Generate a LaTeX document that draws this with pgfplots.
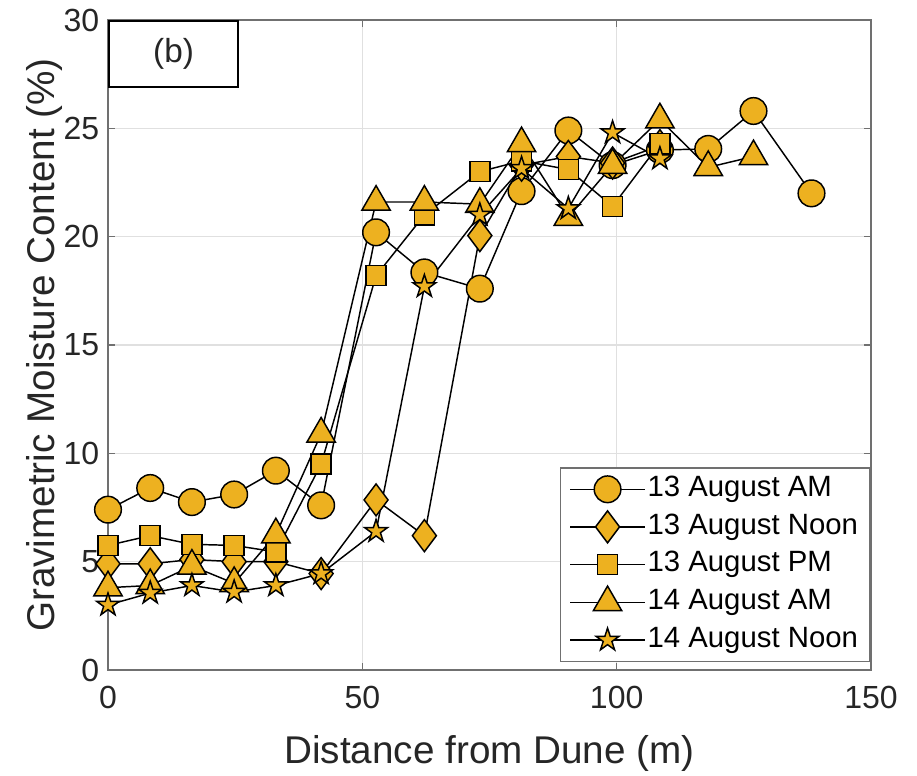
\documentclass[border=0pt]{standalone}
\usepackage{fontspec}
\setmainfont{Liberation Sans}
\usepackage{pgfplots}
\pgfplotsset{compat=1.18}

\definecolor{matyellow}{HTML}{EDB120}
\definecolor{axgray}{HTML}{707070}

% filled five-point star like MATLAB's pentagram
\pgfdeclareplotmark{pentagram*}{%
  \pgfpathmoveto{\pgfpointpolar{90}{\pgfplotmarksize}}%
  \pgfpathlineto{\pgfpointpolar{126}{0.382\pgfplotmarksize}}%
  \pgfpathlineto{\pgfpointpolar{162}{\pgfplotmarksize}}%
  \pgfpathlineto{\pgfpointpolar{198}{0.382\pgfplotmarksize}}%
  \pgfpathlineto{\pgfpointpolar{234}{\pgfplotmarksize}}%
  \pgfpathlineto{\pgfpointpolar{270}{0.382\pgfplotmarksize}}%
  \pgfpathlineto{\pgfpointpolar{306}{\pgfplotmarksize}}%
  \pgfpathlineto{\pgfpointpolar{342}{0.382\pgfplotmarksize}}%
  \pgfpathlineto{\pgfpointpolar{18}{\pgfplotmarksize}}%
  \pgfpathlineto{\pgfpointpolar{54}{0.382\pgfplotmarksize}}%
  \pgfpathclose
  \pgfusepathqfillstroke}

\begin{document}
\begin{tikzpicture}
\begin{axis}[
    at={(0,0)}, anchor=south west,
    width=572.25pt, height=487.5pt, scale only axis,
    xmin=0, xmax=150, ymin=0, ymax=30,
    xtick={0,50,100,150},
    ytick={0,5,10,15,20,25,30},
    tick align=inside,
    major tick length=5.5pt,
    tick style={axgray, line width=0.9pt},
    axis line style={axgray, line width=1pt},
    grid=major,
    grid style={black!12, line width=0.8pt},
    /pgf/number format/assume math mode=true,
    tick label style={font=\fontsize{24}{28}\selectfont, black!85},
    xticklabel style={yshift=-8.5pt},
    yticklabel style={xshift=-3pt},
    xlabel={Distance from Dune (m)},
    ylabel={Gravimetric Moisture Content (\%)},
    label style={font=\fontsize{29}{34}\selectfont, black!85},
    xlabel style={at={(axis description cs:0.5,-0.1431)}, anchor=base},
    ylabel style={at={(axis description cs:-0.0695,0.5)}, anchor=base},
    every axis plot/.append style={black, line width=1.1pt,
        mark options={solid, fill=matyellow, line width=1.1pt}},
    legend cell align=left,
    legend image code/.code={%
        \draw[mark repeat=2, mark phase=2, #1] plot coordinates {(0pt,0pt) (28pt,0pt) (56pt,0pt)};},
    legend style={at={(rel axis cs:0.9986,0.0123)}, anchor=south east,
        draw=axgray, line width=0.9pt, fill=white,
        font=\fontsize{22}{26}\selectfont,
        inner xsep=7pt, inner ysep=4pt, row sep=4.2pt,
        nodes={inner sep=1.5pt, text height=16pt, text depth=5pt}},
]
% 13 August AM
\addplot[mark=*, mark size=10pt] coordinates {
    (0,7.4) (8.3,8.4) (16.5,7.75) (24.8,8.1) (33,9.2) (41.9,7.6)
    (52.7,20.2) (62.2,18.35) (73.1,17.6) (81.3,22.1) (90.5,24.9)
    (99.2,23.3) (108.5,24.0) (118,24.05) (126.9,25.8) (138.3,22.0)
};
% 13 August Noon
\addplot[mark=diamond*, mark size=12pt] coordinates {
    (0,4.9) (8.3,4.9) (16.5,5.1) (24.8,5.0) (33,5.0) (41.9,4.45)
    (52.7,7.85) (62.2,6.2) (73.1,20.05) (81.3,23.3) (90.5,23.7)
    (99.2,23.4) (108.5,24.2)
};
% 13 August PM
\addplot[mark=square*, mark size=7.5pt] coordinates {
    (0,5.75) (8.3,6.2) (16.5,5.8) (24.8,5.75) (33,5.45) (41.9,9.5)
    (52.7,18.2) (62.2,21.0) (73.1,23.0) (81.3,23.5) (90.5,23.1)
    (99.2,21.4) (108.5,24.3)
};
% 14 August AM
\addplot[mark=triangle*, mark size=12.3pt] coordinates {
    (0,3.8) (8.3,3.9) (16.5,4.8) (24.8,4.0) (33,6.25) (41.9,10.9)
    (52.7,21.6) (62.2,21.6) (73.1,21.5) (81.3,24.3) (90.5,20.9)
    (99.2,23.3) (108.5,25.4) (118,23.2) (126.9,23.7)
};
% 14 August Noon
\addplot[mark=pentagram*, mark size=9pt] coordinates {
    (0,3.0) (8.3,3.55) (16.5,3.9) (24.8,3.6) (33,3.9) (41.9,4.45)
    (52.7,6.4) (62.2,17.7) (73.1,21.0) (81.3,23.15) (90.5,21.3)
    (99.2,24.8) (108.5,23.6)
};
\legend{13 August AM, 13 August Noon, 13 August PM, 14 August AM, 14 August Noon}

\draw[black, line width=1pt, fill=white]
    (rel axis cs:0.0013,0.8969) rectangle (rel axis cs:0.1704,0.9985);
\node[font=\fontsize{25}{30}\selectfont, black!85] at (rel axis cs:0.0859,0.9477) {(b)};
\end{axis}
\pgfresetboundingbox
\path[use as bounding box] (-81pt,-78.75pt) rectangle (606.75pt,502.5pt);
\end{tikzpicture}
\end{document}
